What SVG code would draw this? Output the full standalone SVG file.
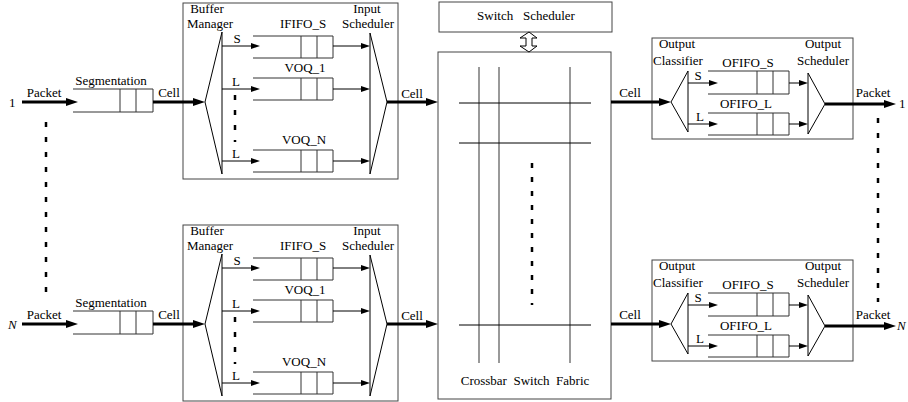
<svg xmlns="http://www.w3.org/2000/svg" width="908" height="402" viewBox="0 0 908 402" font-family="'Liberation Serif', 'Times New Roman', serif" font-size="13">
<defs>
<style>
text{font-family:'Liberation Serif','Times New Roman',serif;font-size:13px;fill:#000}
.m{text-anchor:middle}
.box{fill:none;stroke:#444;stroke-width:1}
.ln{fill:none;stroke:#000;stroke-width:1}
.q{fill:none;stroke:#333;stroke-width:1}
.th{fill:none;stroke:#000;stroke-width:3}
.dot{fill:none;stroke:#000;stroke-width:2.5;stroke-dasharray:5 10}
.xb{fill:none;stroke:#555;stroke-width:1.2}
</style>
<marker id="ah" markerUnits="userSpaceOnUse" markerWidth="13" markerHeight="9" refX="4" refY="4" orient="auto"><path d="M0,0 L12,4 L0,8 z" fill="#000"/></marker>
<marker id="as" markerUnits="userSpaceOnUse" markerWidth="10" markerHeight="7" refX="3" refY="3" orient="auto"><path d="M0,0 L9,3 L0,6 z" fill="#000"/></marker>
<g id="inblock">
<rect x="183" y="3" width="215" height="176" class="box"/>
<path class="ln" d="M222,32 L205,102 L222,174 Z"/>
<path class="ln" d="M370,33 L387,102 L370,174 Z"/>
<text x="207" y="13" class="m">Buffer</text>
<text x="210" y="28" class="m">Manager</text>
<text x="367" y="13" class="m">Input</text>
<text x="368" y="28" class="m">Scheduler</text>
<path class="q" d="M253,36 H333 V58 H253 M301,36 V58 M317,36 V58"/>
<path class="q" d="M253,78 H333 V100 H253 M301,78 V100 M317,78 V100"/>
<path class="q" d="M253,150 H333 V172 H253 M301,150 V172 M317,150 V172"/>
<text x="303" y="28" class="m">IFIFO_S</text>
<text x="305" y="72" class="m">VOQ_1</text>
<text x="304" y="144" class="m">VOQ_N</text>
<line class="ln" x1="222" y1="46" x2="254" y2="46" marker-end="url(#as)"/>
<line class="ln" x1="222" y1="89" x2="254" y2="89" marker-end="url(#as)"/>
<line class="ln" x1="222" y1="161" x2="254" y2="161" marker-end="url(#as)"/>
<line class="ln" x1="333" y1="46" x2="364" y2="46" marker-end="url(#as)"/>
<line class="ln" x1="333" y1="89" x2="364" y2="89" marker-end="url(#as)"/>
<line class="ln" x1="333" y1="161" x2="364" y2="161" marker-end="url(#as)"/>
<text x="237" y="43" class="m">S</text>
<text x="236" y="86" class="m">L</text>
<text x="236" y="158" class="m">L</text>
<line class="dot" x1="235" y1="95" x2="235" y2="142"/>
</g>
<g id="outblock">
<rect x="652" y="38" width="201" height="101" class="box"/>
<path class="ln" d="M688,71 L671,102 L688,132 Z"/>
<path class="ln" d="M808,73 L825,104 L808,134 Z"/>
<text x="677" y="48" class="m">Output</text>
<text x="678" y="65" class="m">Classifier</text>
<text x="823" y="48" class="m">Output</text>
<text x="823" y="65" class="m">Scheduler</text>
<path class="q" d="M708,71 H789 V94 H708 M757,71 V94 M773,71 V94"/>
<path class="q" d="M708,113 H789 V135 H708 M757,113 V135 M773,113 V135"/>
<text x="748" y="67" class="m">OFIFO_S</text>
<text x="746" y="108" class="m">OFIFO_L</text>
<line class="ln" x1="688" y1="83" x2="712" y2="83" marker-end="url(#as)"/>
<line class="ln" x1="688" y1="124" x2="712" y2="124" marker-end="url(#as)"/>
<line class="ln" x1="789" y1="83" x2="802" y2="83" marker-end="url(#as)"/>
<line class="ln" x1="789" y1="124" x2="802" y2="124" marker-end="url(#as)"/>
<text x="698" y="80" class="m">S</text>
<text x="700" y="121" class="m">L</text>
</g>
<g id="segq">
<path class="q" d="M73,89 H153 V112 H73 M120,89 V112 M136,89 V112"/>
<text x="111" y="85" class="m">Segmentation</text>
</g>
</defs>

<g id="segmentation-1"><use href="#segq"/></g>
<g id="segmentation-N" transform="translate(0,222)"><use href="#segq"/></g>
<g id="input-port-1"><use href="#inblock"/></g>
<g id="input-port-N" transform="translate(0,222)"><use href="#inblock"/></g>
<g id="output-port-1"><use href="#outblock"/></g>
<g id="output-port-N" transform="translate(0,222)"><use href="#outblock"/></g>

<g id="switch-scheduler">
<rect x="439" y="2" width="173" height="30" class="box"/>
<text x="526" y="20" class="m" xml:space="preserve">Switch   Scheduler</text>
</g>

<g id="crossbar-switch-fabric">
<rect x="438" y="52" width="173" height="347" class="box"/>
<line class="xb" x1="479" y1="67" x2="479" y2="363"/>
<line class="xb" x1="499" y1="67" x2="499" y2="363"/>
<line class="xb" x1="570" y1="67" x2="570" y2="363"/>
<line class="ln" x1="459" y1="103" x2="591" y2="103"/>
<line class="ln" x1="459" y1="143" x2="591" y2="143"/>
<line class="ln" x1="459" y1="325" x2="591" y2="325"/>
<line class="dot" x1="532" y1="163" x2="532" y2="305" style="stroke-dasharray:5 9"/>
<text x="525" y="385" class="m" xml:space="preserve">Crossbar  Switch  Fabric</text>
</g>

<g id="connectors">
<path d="M529,32 L537,38 L532,38 L532,46 L537,46 L529,52 L520,46 L526,46 L526,38 L520,38 Z" fill="#fff" stroke="#000" stroke-width="1"/>
<line class="th" x1="22" y1="102" x2="70" y2="102" marker-end="url(#ah)"/>
<line class="th" x1="153" y1="102" x2="197" y2="102" marker-end="url(#ah)"/>
<line class="th" x1="387" y1="102" x2="430" y2="102" marker-end="url(#ah)"/>
<line class="th" x1="611" y1="102" x2="663" y2="102" marker-end="url(#ah)"/>
<line class="th" x1="825" y1="104" x2="888" y2="104" marker-end="url(#ah)"/>
<line class="th" x1="22" y1="324" x2="70" y2="324" marker-end="url(#ah)"/>
<line class="th" x1="153" y1="324" x2="197" y2="324" marker-end="url(#ah)"/>
<line class="th" x1="387" y1="324" x2="430" y2="324" marker-end="url(#ah)"/>
<line class="th" x1="611" y1="324" x2="663" y2="324" marker-end="url(#ah)"/>
<line class="th" x1="825" y1="326" x2="888" y2="326" marker-end="url(#ah)"/>
<text x="44" y="97" class="m">Packet</text>
<text x="169" y="97" class="m">Cell</text>
<text x="412" y="98" class="m">Cell</text>
<text x="630" y="97" class="m">Cell</text>
<text x="873" y="97" class="m">Packet</text>
<text x="44" y="319" class="m">Packet</text>
<text x="169" y="319" class="m">Cell</text>
<text x="412" y="320" class="m">Cell</text>
<text x="630" y="319" class="m">Cell</text>
<text x="873" y="319" class="m">Packet</text>
<text x="9" y="107">1</text>
<text x="8" y="329" font-style="italic">N</text>
<text x="899" y="108">1</text>
<text x="897" y="330" font-style="italic">N</text>
<line class="dot" x1="46" y1="122" x2="46" y2="295"/>
<line class="dot" x1="878" y1="118" x2="878" y2="302"/>
</g>
</svg>
